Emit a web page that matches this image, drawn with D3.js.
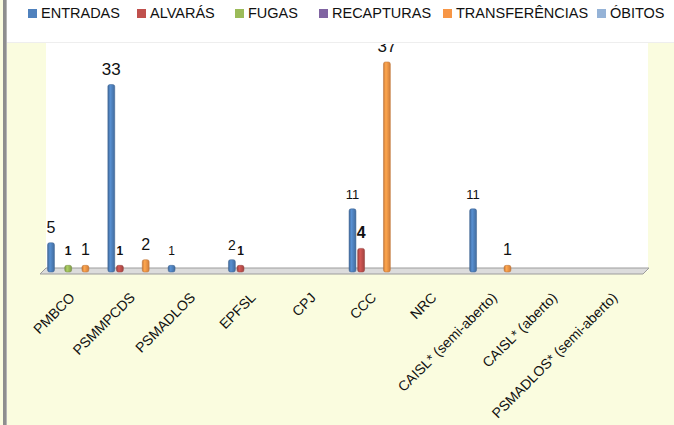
<!DOCTYPE html>
<html>
<head>
<meta charset="utf-8">
<script src="https://cdn.jsdelivr.net/npm/d3@7"></script>
<style>
  body { margin: 0; background: #fafcdf; }
  svg { display: block; font-family: "Liberation Sans", Arial, sans-serif; }
</style>
</head>
<body>
<svg id="chart" width="674" height="425"></svg>
<script>
var categories = ["PMBCO", "PSMMPCDS", "PSMADLOS", "EPFSL", "CPJ", "CCC", "NRC",
                  "CAISL* (semi-aberto)", "CAISL* (aberto)", "PSMADLOS* (semi-aberto)"];
var series = ["ENTRADAS", "ALVARÁS", "FUGAS", "RECAPTURAS", "TRANSFERÊNCIAS", "ÓBITOS"];

var entradas       = [5, 33, 1, 2, 0, 11, 0, 11, 0, 0];
var alvaras        = [0, 1, 0, 1, 0, 4, 0, 0, 0, 0];
var fugas          = [1, 0, 0, 0, 0, 0, 0, 0, 0, 0];
var recapturas     = [0, 0, 0, 0, 0, 0, 0, 0, 0, 0];
var transferencias = [1, 2, 0, 0, 0, 37, 0, 1, 0, 0];
var obitos         = [0, 0, 0, 0, 0, 0, 0, 0, 0, 0];

var values = [entradas, alvaras, fugas, recapturas, transferencias, obitos];
var colors = ["#4f81bd", "#c0504d", "#9bbb59", "#8064a2", "#f79646", "#95b3d7"];

// the data labels in the original don't share one font size
var labelFont = {
  "ENTRADAS": "16px", "ALVARÁS": "bold 12px", "FUGAS": "bold 12px",
  "TRANSFERÊNCIAS": "16px"
};
var labelOverride = {
  "CCC|ALVARÁS": "bold 16px",
  "CCC|ENTRADAS": "13px",
  "CAISL* (semi-aberto)|ENTRADAS": "13px",
  "PSMADLOS|ENTRADAS": "12px",
  "EPFSL|ENTRADAS": "14px",
  "PSMMPCDS|ENTRADAS": "17px",
  "CCC|TRANSFERÊNCIAS": "17px"
};

var svg = d3.select("#chart");
var W = 674, H = 425;

// background pieces
svg.append("rect").attr("x", 7).attr("y", 0).attr("width", W - 7).attr("height", 42).attr("fill", "#fff");
svg.append("line").attr("x1", 7).attr("x2", W).attr("y1", 42.5).attr("y2", 42.5).attr("stroke", "#eeeeee");
svg.append("rect").attr("x", 46).attr("y", 43).attr("width", 602).attr("height", 228).attr("fill", "#fff");
svg.append("rect").attr("x", 3).attr("y", 0).attr("width", 4).attr("height", H).attr("fill", "#8e8e8e");
svg.append("line").attr("x1", 6.5).attr("x2", 6.5).attr("y1", 0).attr("y2", H).attr("stroke", "#b5b5b5");

var x0 = d3.scaleBand().domain(categories).range([45, 648]);
var x1 = d3.scaleBand().domain(series).range([1.7, 53.3]);
var y = d3.scaleLinear().domain([0, 40]).range([271, 45]);

// gradients for the cylinder look
var defs = svg.append("defs");
colors.forEach(function(c, i) {
  var g = defs.append("linearGradient").attr("id", "grad" + i);
  var base = d3.color(c);
  g.append("stop").attr("offset", "0%").attr("stop-color", base.darker(0.6));
  g.append("stop").attr("offset", "35%").attr("stop-color", base.brighter(0.3));
  g.append("stop").attr("offset", "100%").attr("stop-color", base.darker(0.5));
});
// the top of the "37" label is hidden behind the legend strip
defs.append("clipPath").attr("id", "plotClip")
  .append("rect").attr("x", 0).attr("y", 44).attr("width", W).attr("height", H);

// floor
var fy = y(0);
svg.append("polygon")
  .attr("points", [[46, fy - 3], [649, fy - 3], [643, fy + 3], [40, fy + 3]].join(" "))
  .attr("fill", "#dcdcdc").attr("stroke", "#9c9c9c").attr("stroke-width", 1);

var plot = svg.append("g").attr("clip-path", "url(#plotClip)");

var cells = [];
categories.forEach(function(cat, ci) {
  series.forEach(function(s, si) {
    if (values[si][ci] > 0) cells.push({ cat: cat, s: s, si: si, v: values[si][ci] });
  });
});

var bw = x1.bandwidth() * 0.8;

plot.selectAll("rect.bar").data(cells).enter().append("rect")
  .attr("class", "bar")
  .attr("x", function(d) { return x0(d.cat) + x1(d.s) + (x1.bandwidth() - bw) / 2; })
  .attr("y", function(d) { return y(d.v); })
  .attr("width", bw)
  .attr("height", function(d) { return y(0) - y(d.v) + 1; })
  .attr("rx", 2)
  .attr("fill", function(d) { return "url(#grad" + d.si + ")"; })
  .attr("stroke", function(d) { return d3.color(colors[d.si]).darker(0.8); })
  .attr("stroke-width", 0.5);

plot.selectAll("text.val").data(cells).enter().append("text")
  .attr("class", "val")
  .attr("x", function(d) { return x0(d.cat) + x1(d.s) + x1.bandwidth() / 2; })
  .attr("y", function(d) { return y(d.v) - 10; })
  .attr("text-anchor", "middle")
  .attr("fill", "#111")
  .style("font", function(d) {
    var f = labelOverride[d.cat + "|" + d.s] || labelFont[d.s];
    return f + ' "Liberation Sans", Arial, sans-serif';
  })
  .text(function(d) { return d.v; });

// category labels
var xAxis = d3.axisBottom(x0).tickSize(0).tickPadding(0);
var ax = svg.append("g").attr("transform", "translate(0," + 295 + ")").call(xAxis);
ax.select(".domain").remove();
ax.selectAll("text")
  .attr("transform", "translate(-3,0) rotate(-45)")
  .attr("text-anchor", "end")
  .attr("dy", "0.35em")
  .attr("fill", "#111")
  .style("font-size", "14px")
  .style("font-family", '"Liberation Sans", Arial, sans-serif');

// legend
var legendX = [28, 137, 235, 319, 443, 597];
var lg = svg.append("g");
series.forEach(function(s, i) {
  lg.append("rect").attr("x", legendX[i]).attr("y", 9).attr("width", 9).attr("height", 9)
    .attr("fill", colors[i]);
  lg.append("text").attr("x", legendX[i] + 13).attr("y", 18)
    .style("font-size", "14.5px").attr("fill", "#111").text(s);
});
</script>
</body>
</html>
